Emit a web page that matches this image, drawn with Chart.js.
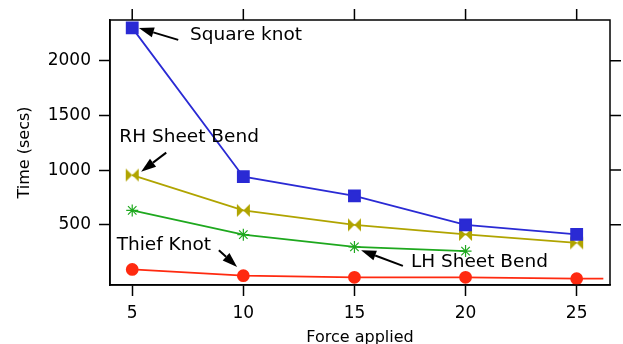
<!DOCTYPE html>
<html>
<head>
<meta charset="utf-8">
<script src="https://cdn.jsdelivr.net/npm/chart.js@4.4.1/dist/chart.umd.min.js"></script>
<style>
  html, body { margin: 0; padding: 0; background: #fff; }
  #wrap { width: 623px; height: 344px; }
</style>
</head>
<body>
<div id="wrap"><canvas id="chart" width="623" height="344"></canvas></div>
<script>
// values
const forceTicks = [5, 10, 15, 20, 25];
const timeTicks = [500, 1000, 1500, 2000];

const squareX = [5, 10, 15, 20, 25];
const squareY = [2300, 940, 765, 500, 412];

const rhX = [5, 10, 15, 20, 25];
const rhY = [955, 632, 500, 412, 335];

const lhX = [5, 10, 15, 20];
const lhY = [632, 410, 298, 260];

const thiefX = [5, 10, 15, 20, 25, 26.2];
const thiefY = [92, 35, 20, 20, 8, 8];

// labels and arrows, in data units
const notes = [
  { text: 'Square knot', x: 7.6, y: 2235, fromX: 7.07, fromY: 2190, toX: 5.3, toY: 2298 },
  { text: 'RH Sheet Bend', x: 4.42, y: 1303, fromX: 6.53, fromY: 1160, toX: 5.4, toY: 985 },
  { text: 'Thief Knot', x: 4.3, y: 314, fromX: 8.9, fromY: 268, toX: 9.72, toY: 115 },
  { text: 'LH Sheet Bend', x: 17.54, y: 159, fromX: 17.18, fromY: 125, toX: 15.3, toY: 268 }
];

const FONT = "'DejaVu Sans', Verdana, sans-serif";

function pairs(xs, ys) {
  return xs.map((x, i) => ({ x, y: ys[i] }));
}

// bowtie marker for the RH series
function bowtie(color) {
  const c = document.createElement('canvas');
  c.width = 15; c.height = 15;
  const g = c.getContext('2d');
  g.fillStyle = color;
  g.beginPath();
  g.moveTo(1, 1); g.lineTo(7.5, 7.5); g.lineTo(1, 14); g.closePath();
  g.moveTo(14, 1); g.lineTo(7.5, 7.5); g.lineTo(14, 14); g.closePath();
  g.fill();
  return c;
}

const frameAndNotes = {
  id: 'frameAndNotes',
  afterDraw(chart) {
    const { ctx, chartArea: a, scales } = chart;
    const xs = scales.x, ys = scales.y;
    ctx.save();
    ctx.strokeStyle = '#000';
    ctx.lineWidth = 1.5;
    ctx.strokeRect(a.left, a.top, a.right - a.left, a.bottom - a.top);
    // mirrored ticks on top and right
    ctx.beginPath();
    forceTicks.forEach(v => {
      const px = xs.getPixelForValue(v);
      ctx.moveTo(px, a.top); ctx.lineTo(px, a.top - 11);
    });
    timeTicks.forEach(v => {
      const py = ys.getPixelForValue(v);
      ctx.moveTo(a.right, py); ctx.lineTo(a.right + 11, py);
    });
    ctx.stroke();

    ctx.fillStyle = '#000';
    ctx.font = '18.5px ' + FONT;
    ctx.textBaseline = 'middle';
    ctx.textAlign = 'left';
    notes.forEach(n => {
      ctx.fillText(n.text, xs.getPixelForValue(n.x), ys.getPixelForValue(n.y));
      const x1 = xs.getPixelForValue(n.fromX), y1 = ys.getPixelForValue(n.fromY);
      const x2 = xs.getPixelForValue(n.toX), y2 = ys.getPixelForValue(n.toY);
      const ang = Math.atan2(y2 - y1, x2 - x1);
      const head = 15, half = 5;
      const bx = x2 - head * Math.cos(ang), by = y2 - head * Math.sin(ang);
      ctx.lineWidth = 2;
      ctx.beginPath();
      ctx.moveTo(x1, y1); ctx.lineTo(bx, by);
      ctx.stroke();
      ctx.beginPath();
      ctx.moveTo(x2, y2);
      ctx.lineTo(bx + half * Math.sin(ang), by - half * Math.cos(ang));
      ctx.lineTo(bx - half * Math.sin(ang), by + half * Math.cos(ang));
      ctx.closePath();
      ctx.fill();
    });
    ctx.restore();
  }
};

new Chart(document.getElementById('chart'), {
  type: 'scatter',
  data: {
    datasets: [
      {
        label: 'Square knot',
        data: pairs(squareX, squareY),
        showLine: true,
        borderColor: '#2a2ad4',
        backgroundColor: '#2a2ad4',
        borderWidth: 1.8,
        pointStyle: 'rect',
        pointRadius: 7.8
      },
      {
        label: 'RH Sheet Bend',
        data: pairs(rhX, rhY),
        showLine: true,
        borderColor: '#b0a400',
        backgroundColor: '#b0a400',
        borderWidth: 1.8,
        pointStyle: bowtie('#b0a400')
      },
      {
        label: 'LH Sheet Bend',
        data: pairs(lhX, lhY),
        showLine: true,
        borderColor: '#1ea81e',
        backgroundColor: '#1ea81e',
        borderWidth: 1.8,
        pointStyle: 'star',
        pointRadius: 6,
        pointBorderWidth: 1.2
      },
      {
        label: 'Thief Knot',
        data: pairs(thiefX, thiefY),
        showLine: true,
        borderColor: '#ff2a10',
        backgroundColor: '#ff2a10',
        borderWidth: 1.8,
        pointStyle: 'circle',
        pointRadius: thiefX.map(x => (forceTicks.includes(x) ? 5.5 : 0))
      }
    ]
  },
  options: {
    responsive: false,
    animation: false,
    layout: { padding: { top: 20, right: 13, left: 0, bottom: 0 } },
    plugins: { legend: { display: false }, tooltip: { enabled: false } },
    elements: { line: { tension: 0 } },
    scales: {
      x: {
        type: 'linear',
        min: 4.0,
        max: 26.5,
        afterBuildTicks: s => { s.ticks = forceTicks.map(v => ({ value: v })); },
        afterFit: s => { s.height = 59; },
        border: { display: true, color: '#000', width: 1.5 },
        grid: { drawOnChartArea: false, tickLength: 11, color: '#000', tickWidth: 1.5 },
        ticks: { color: '#000', font: { family: FONT, size: 17 }, padding: 7, maxRotation: 0, callback: v => String(v) },
        title: { display: true, text: 'Force applied', color: '#000', font: { family: FONT, size: 16 }, padding: { top: 0, bottom: -3 } }
      },
      y: {
        type: 'linear',
        min: -50,
        max: 2372,
        afterBuildTicks: s => { s.ticks = timeTicks.map(v => ({ value: v })); },
        afterFit: s => { s.width = 110; },
        border: { display: true, color: '#000', width: 1.5 },
        grid: { drawOnChartArea: false, tickLength: 11, color: '#000', tickWidth: 1.5 },
        ticks: { color: '#000', font: { family: FONT, size: 17 }, padding: 8, callback: v => String(v) },
        title: { display: true, text: 'Time (secs)', color: '#000', font: { family: FONT, size: 16 }, padding: { top: 15, bottom: 0 } }
      }
    }
  },
  plugins: [frameAndNotes]
});
</script>
</body>
</html>
